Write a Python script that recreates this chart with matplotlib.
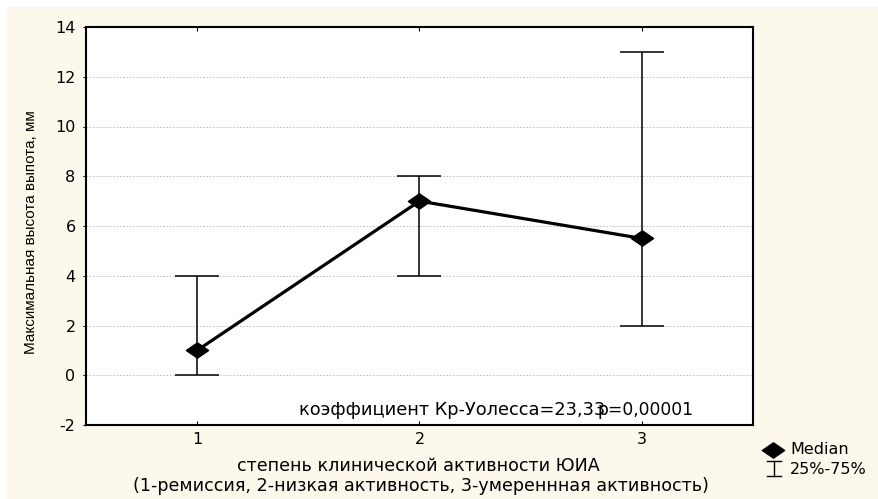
import numpy as np
import matplotlib.pyplot as plt
from matplotlib.patches import Rectangle
from matplotlib.lines import Line2D
from matplotlib.path import Path

# Data
groups = [1, 2, 3]
median = np.array([1.0, 7.0, 5.5])
q25 = np.array([0.0, 4.0, 2.0])
q75 = np.array([4.0, 8.0, 13.0])

plt.rcParams['font.family'] = ['DejaVu Sans']
plt.rcParams['axes.unicode_minus'] = False

# wide diamond (the original picture is stretched horizontally)
wide_diamond = Path([(-1.45, 0), (0, 1), (1.45, 0), (0, -1), (-1.45, 0)],
                    [Path.MOVETO, Path.LINETO, Path.LINETO, Path.LINETO, Path.CLOSEPOLY])

fig = plt.figure(figsize=(8.79, 4.99), dpi=100, facecolor='white')
# cream background panel (white strip on the left and top)
fig.patches.append(Rectangle((7 / 879, 0), 1, 1 - 7 / 499, transform=fig.transFigure,
                             facecolor='#fdf8ec', edgecolor='none', zorder=-1))

ax = fig.add_axes([86 / 879, 1 - 425 / 499, (753 - 86) / 879, (425 - 27) / 499])
ax.set_facecolor('white')

ax.errorbar(groups, median, yerr=[median - q25, q75 - median], fmt='none',
            ecolor='black', elinewidth=1.1, capsize=15.5, capthick=1.1, zorder=2)
ax.plot(groups, median, color='black', lw=2.3, marker=wide_diamond, markersize=16,
        markerfacecolor='black', zorder=3)

ax.set_xlim(0.5, 3.5)
ax.set_ylim(-2, 14)
ax.set_xticks(groups)
ax.set_yticks(np.arange(-2, 15, 2))
ax.grid(axis='y', color='#b8b8b8', linestyle=(0, (2, 2)), linewidth=0.6)
ax.tick_params(axis='x', direction='in', top=True, length=3, labelsize=11.5, pad=5)
ax.tick_params(axis='y', direction='out', length=2.5, labelsize=11.5, pad=5)
for s in ax.spines.values():
    s.set_linewidth(1.5)

ax.text(1.46, -1.4, 'коэффициент Кр-Уолесса=23,33', fontsize=12.8, va='center', ha='left')
ax.text(2.80, -1.4, 'p=0,00001', fontsize=12.3, va='center', ha='left')

fig.text(418 / 879, 1 - 466 / 499, 'степень клинической активности ЮИА', ha='center',
         va='center', fontsize=12.6)
fig.text(421 / 879, 1 - 486 / 499,
         '(1-ремиссия, 2-низкая активность, 3-умереннная активность)',
         ha='center', va='center', fontsize=12.6)
fig.text(31 / 879, 1 - 232 / 499, 'Максимальная высота выпота, мм', rotation=90,
         ha='center', va='center', fontsize=11,
         family=['Liberation Sans Narrow', 'Liberation Sans', 'DejaVu Sans'])

# legend
fig.lines.append(Line2D([773 / 879], [1 - 450 / 499], transform=fig.transFigure,
                        marker=wide_diamond, markersize=16, color='black', linestyle='none'))
fig.lines.append(Line2D([774 / 879, 774 / 879], [1 - 461 / 499, 1 - 476 / 499],
                        transform=fig.transFigure, color='black', lw=1))
for yy in (461, 476):
    fig.lines.append(Line2D([767 / 879, 781 / 879], [1 - yy / 499, 1 - yy / 499],
                            transform=fig.transFigure, color='black', lw=1))
fig.text(790 / 879, 1 - 450 / 499, 'Median', ha='left', va='center', fontsize=11.5)
fig.text(790 / 879, 1 - 469 / 499, '25%-75%', ha='left', va='center', fontsize=11.5)

fig.savefig('out.png', dpi=100, facecolor=fig.get_facecolor())
